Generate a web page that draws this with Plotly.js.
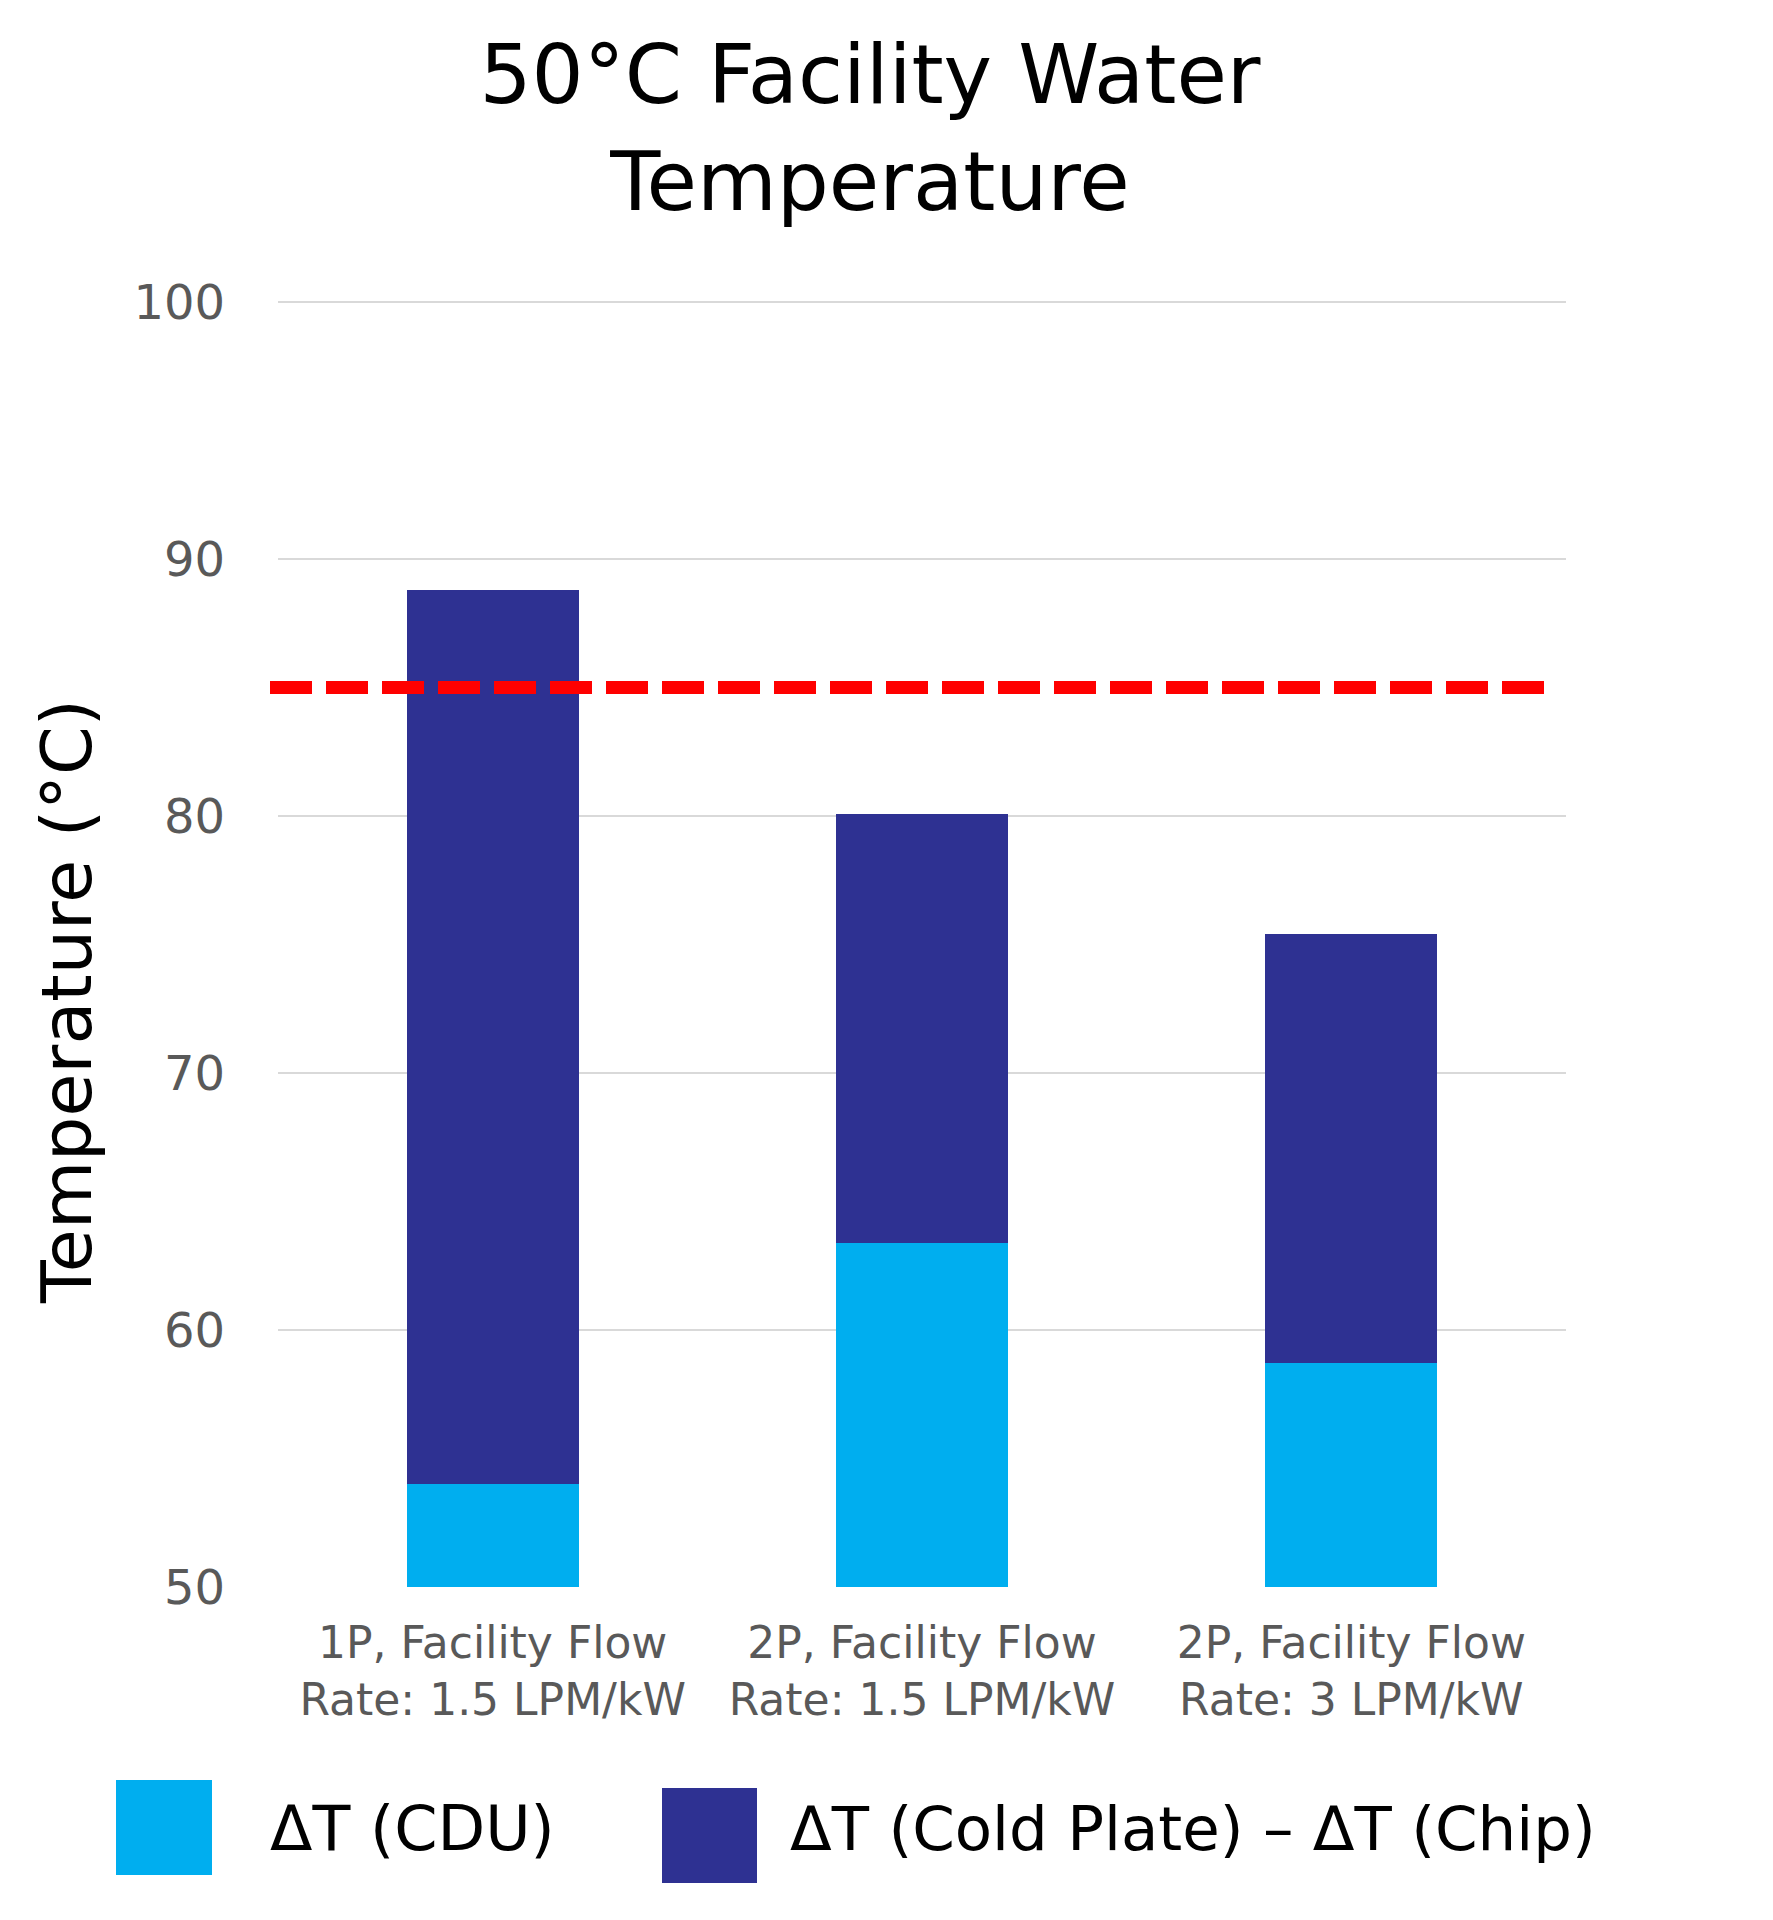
<!DOCTYPE html>
<html>
<head>
<meta charset="utf-8">
<script src="https://cdn.plot.ly/plotly-3.0.1.min.js"></script>
<style>html,body{margin:0;padding:0;background:#fff;}#chart{width:1773px;height:1920px;}</style>
</head>
<body>
<div id="chart"></div>
<script>
// ---- data ----
const categories = ["1P, Facility Flow<br>Rate: 1.5 LPM/kW", "2P, Facility Flow<br>Rate: 1.5 LPM/kW", "2P, Facility Flow<br>Rate: 3 LPM/kW"];
const cduTop = [54.0, 63.4, 58.7];          // top of ΔT (CDU) segment, °C
const coldPlateChip = [34.8, 16.7, 16.7];   // ΔT (Cold Plate) – ΔT (Chip) segment height, °C
const seriesNames = ["ΔT (CDU)", "ΔT (Cold Plate) – ΔT (Chip)"];
const seriesColors = ["#00AEEF", "#2E3192"];
const limitTemp = 85;
const yTicks = [50, 60, 70, 80, 90, 100];
const yRange = [50, 100.2];

// ---- layout geometry (pixels) ----
const W = 1773, H = 1920;
const L = 278, R = 207, B = 333;
const PH = Math.round(1285 * (yRange[1] - yRange[0]) / 50);
const T = H - B - PH;
const PW = W - L - R;
const px = x => (x - L) / PW;
const py = y => (H - B - y) / PH;

const FONT = "DejaVu Sans";

const traces = [
  {type: "bar", x: [0,1,2], y: cduTop, name: seriesNames[0], width: 0.4,
   marker: {color: seriesColors[0], line: {width: 0}}, showlegend: false, hoverinfo: "skip"},
  {type: "bar", x: [0,1,2], y: coldPlateChip, name: seriesNames[1], width: 0.4,
   marker: {color: seriesColors[1], line: {width: 0}}, showlegend: false, hoverinfo: "skip"}
];

const layout = {
  width: W, height: H,
  margin: {l: L, r: R, t: T, b: B, pad: 0},
  paper_bgcolor: "#ffffff", plot_bgcolor: "#ffffff",
  barmode: "stack",
  font: {family: FONT, color: "#000"},
  title: {text: "50°C Facility Water<br>Temperature", font: {family: FONT, size: 82, color: "#000"},
          xref: "paper", x: px(870), xanchor: "center", yref: "container", y: 1 - 103/H, yanchor: "top"},
  xaxis: {
    range: [-0.5, 2.5], tickmode: "array", tickvals: [0,1,2], ticktext: categories,
    tickfont: {family: FONT, size: 44, color: "#595959"},
    showgrid: false, zeroline: false, showline: false, ticks: "", ticklabelstandoff: 26, fixedrange: true
  },
  yaxis: {
    range: yRange, tickvals: yTicks, ticks: "",
    tickfont: {family: FONT, size: 48, color: "#595959"},
    showgrid: true, gridcolor: "#d9d9d9", gridwidth: 2.5,
    zeroline: false, showline: false, ticklabelstandoff: 52, fixedrange: true
  },
  shapes: [
    {type: "line", xref: "paper", yref: "y", x0: px(270), x1: px(1547), y0: limitTemp, y1: limitTemp,
     line: {color: "#FF0000", width: 13, dash: "42px,14px"}},
    {type: "rect", xref: "paper", yref: "paper", x0: px(116), x1: px(212), y0: py(1875), y1: py(1780),
     fillcolor: seriesColors[0], line: {width: 0}},
    {type: "rect", xref: "paper", yref: "paper", x0: px(662), x1: px(757), y0: py(1883), y1: py(1788),
     fillcolor: seriesColors[1], line: {width: 0}}
  ],
  annotations: [
    {text: "Temperature (°C)", textangle: -90, xref: "paper", yref: "paper", x: px(67), y: py(1002),
     xanchor: "center", yanchor: "middle", showarrow: false, font: {family: FONT, size: 70, color: "#000"}},
    {text: seriesNames[0], xref: "paper", yref: "paper", x: px(268), y: py(1828),
     xanchor: "left", yanchor: "middle", showarrow: false, font: {family: FONT, size: 62, color: "#000"}},
    {text: seriesNames[1], xref: "paper", yref: "paper", x: px(788), y: py(1828),
     xanchor: "left", yanchor: "middle", showarrow: false, font: {family: FONT, size: 61, color: "#000"}}
  ]
};

Plotly.newPlot("chart", traces, layout, {staticPlot: true, displayModeBar: false});
</script>
</body>
</html>
